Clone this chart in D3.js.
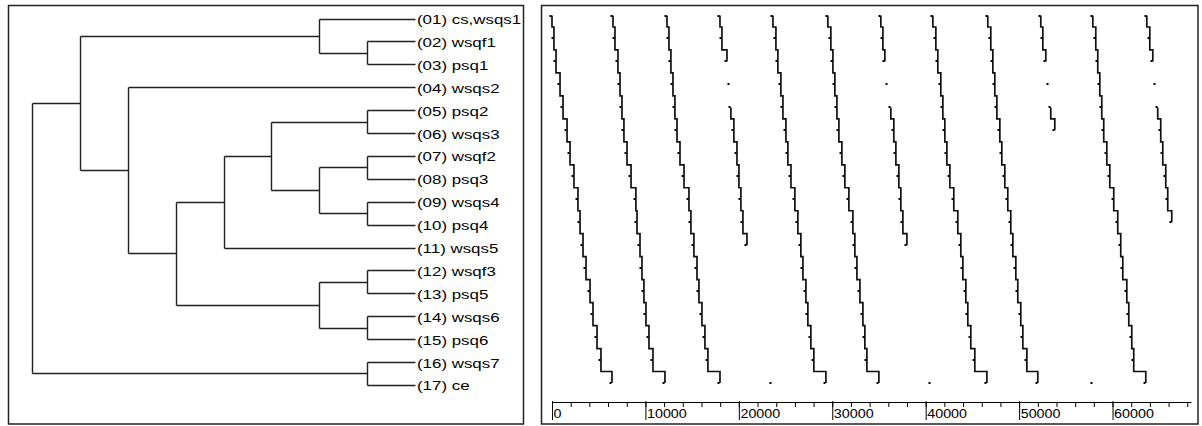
<!DOCTYPE html>
<html>
<head>
<meta charset="utf-8">
<script src="https://cdn.jsdelivr.net/npm/d3@7"></script>
<style>
  body { margin: 0; background: #fff; }
  svg { display: block; }
  text { font-family: "Liberation Sans", Arial, sans-serif; fill: #000; }
</style>
</head>
<body>
<svg width="1202" height="426"></svg>
<script>
// leaf labels, top to bottom
const labels = ["(01) cs,wsqs1", "(02) wsqf1", "(03) psq1", "(04) wsqs2", "(05) psq2",
  "(06) wsqs3", "(07) wsqf2", "(08) psq3", "(09) wsqs4", "(10) psq4", "(11) wsqs5",
  "(12) wsqf3", "(13) psq5", "(14) wsqs6", "(15) psq6", "(16) wsqs7", "(17) ce"];

// linkage: [clusterA, clusterB, level]; new clusters numbered from 17
const merges = [
  [1, 2, 1], [4, 5, 1], [6, 7, 1], [8, 9, 1], [11, 12, 1], [13, 14, 1], [15, 16, 1],
  [0, 17, 2], [19, 20, 2], [21, 22, 2], [18, 25, 3], [27, 10, 4], [28, 26, 5],
  [3, 29, 6], [24, 30, 7], [31, 23, 8]
];

// right panel: position of each row (17 rows), one array per column trace
const fullTraces = [
  [0, 210, 430, 860, 1180, 1610, 1930, 2350, 2780, 3000, 3320, 3640, 4070, 4390, 4820, 5240, 6420],
  [6530, 6740, 7060, 7280, 7490, 7700, 8030, 8460, 8980, 9100, 9420, 9630, 9840, 10060, 10380, 10810, 12090],
  [12310, 12520, 12730, 12950, 13160, 13380, 13700, 14130, 14660, 14870, 15190, 15520, 15730, 16050, 16370, 16690, 17980],
  [23650, 23970, 24180, 24500, 24720, 25040, 25250, 25580, 26000, 26320, 26640, 26860, 27180, 27390, 27710, 28030, 29320],
  [29530, 29850, 30070, 30280, 30500, 30710, 31030, 31350, 31780, 32210, 32420, 32640, 32960, 33280, 33490, 33710, 34990],
  [40770, 41090, 41300, 41620, 41840, 42050, 42270, 42590, 43010, 43440, 43760, 43980, 44300, 44510, 44830, 45260, 46550],
  [46650, 46970, 47190, 47400, 47620, 47940, 48150, 48470, 48790, 49110, 49330, 49650, 49860, 50180, 50400, 50830, 52000],
  [57890, 58210, 58420, 58640, 58850, 59060, 59390, 59710, 60130, 60560, 60880, 61100, 61530, 61740, 62060, 62270, 63560]
];

// broken traces: [startRow, values]
const brokenTraces = [
  [[0, [17980, 18190, 18730]], [3, [19050]], [4, [19150, 19470, 19800, 20010, 20220, 20440, 20870]], [16, [23540]]],
  [[0, [35200, 35420, 35630]], [3, [35950]], [4, [36270, 36590, 36810, 37130, 37340, 37560, 37990]], [16, [40550]]],
  [[0, [52320, 52540, 52860]], [3, [53180]], [4, [53390, 53820]], [16, [57890]]],
  [[0, [63670, 63990, 64310]], [3, [64630]], [4, [64840, 65160, 65380, 65700, 65910, 66340]]]
];

const minorTicks = d3.range(0, 68001, 2000);
const majorTicks = d3.range(0, 60001, 10000);

const svg = d3.select("svg");

// panel frames
svg.append("rect").attr("x", 8.5).attr("y", 5.5).attr("width", 515).attr("height", 418.5)
  .attr("fill", "none").attr("stroke", "#222").attr("stroke-width", 1.5);
svg.append("rect").attr("x", 541.5).attr("y", 5.5).attr("width", 656.5).attr("height", 418.5)
  .attr("fill", "none").attr("stroke", "#222").attr("stroke-width", 1.5);

// ---- dendrogram ----
const nodes = labels.map(name => ({ name, h: 0 }));
merges.forEach(([a, b, h]) => nodes.push({ h, children: [nodes[a], nodes[b]] }));
const root = d3.hierarchy(nodes[nodes.length - 1]);
d3.cluster().size([1, 1]).separation(() => 1)(root);

const n = labels.length;
const ly = d3.scaleLinear().domain([0.5 / n, (n - 0.5) / n]).range([18.5, 384.9]);
const lx = d3.scaleLinear().domain([0, 8]).range([415, 32]);

const dg = svg.append("g").attr("stroke", "#222").attr("stroke-width", 1.4).attr("fill", "none");
root.descendants().filter(d => d.children).forEach(d => {
  const px = Math.round(lx(d.data.h)) + 0.5;
  const ys = d.children.map(c => Math.round(ly(c.x)) + 0.5);
  dg.append("line").attr("x1", px).attr("x2", px).attr("y1", d3.min(ys)).attr("y2", d3.max(ys));
  d.children.forEach((c, i) => {
    dg.append("line").attr("x1", px).attr("x2", Math.round(lx(c.data.h)) + 0.5)
      .attr("y1", ys[i]).attr("y2", ys[i]);
  });
});

svg.append("g").selectAll("text").data(root.leaves()).join("text")
  .attr("transform", d => `translate(417,${ly(d.x) + 5.5}) scale(1.3,1)`)
  .attr("font-size", 13)
  .text(d => d.data.name);

// ---- trace panel ----
const x = d3.scaleLinear().domain([0, 68400]).range([552, 1191]);
const ry = d3.scalePoint().domain(d3.range(17)).range([15.5, 383]);

const segments = [];
fullTraces.forEach(t => segments.push([0, t]));
brokenTraces.forEach(t => t.forEach(s => segments.push(s)));

function stepPath(start, vals) {
  const p = d3.path();
  vals.forEach((v, i) => {
    const px = x(v), py = ry(start + i);
    if (i === 0) p.moveTo(px, py);
    else {
      const prev = ry(start + i - 1);
      p.lineTo(x(vals[i - 1]), (prev + py) / 2);
      p.lineTo(px, (prev + py) / 2);
      p.lineTo(px, py);
    }
  });
  return p.toString();
}

const tg = svg.append("g");
tg.selectAll("path").data(segments.filter(s => s[1].length > 1)).join("path")
  .attr("d", s => stepPath(s[0], s[1]))
  .attr("fill", "none").attr("stroke", "#111").attr("stroke-width", 1.7);

const dots = [];
segments.forEach(([start, vals]) => vals.forEach((v, i) => dots.push([start + i, v])));
tg.selectAll("rect").data(dots).join("rect")
  .attr("x", d => Math.round(x(d[1])) - 2.5)
  .attr("y", d => Math.round(ry(d[0])) - 1)
  .attr("width", 2).attr("height", 2).attr("fill", "#000");

// axis: minor ticks every 2000, long ticks with labels every 10000
const minorG = svg.append("g").attr("transform", "translate(0,402)").attr("color", "#000");
minorG.call(d3.axisBottom(x).tickValues(minorTicks).tickSize(5).tickSizeOuter(0).tickFormat(""));
const majorG = svg.append("g").attr("transform", "translate(0,401)").attr("color", "#000");
majorG.call(d3.axisBottom(x).tickValues(majorTicks).tickSize(19).tickSizeOuter(0).tickFormat(d3.format("d")));
majorG.select(".domain").remove();
majorG.selectAll("text")
  .attr("text-anchor", "start").attr("x", 1).attr("y", 17.5).attr("dy", null)
  .attr("font-size", 13).attr("font-family", "Liberation Sans, Arial, sans-serif")
  .attr("transform", "scale(1.1,1)");
minorG.attr("font-family", null);
majorG.attr("font-family", null);
</script>
</body>
</html>
